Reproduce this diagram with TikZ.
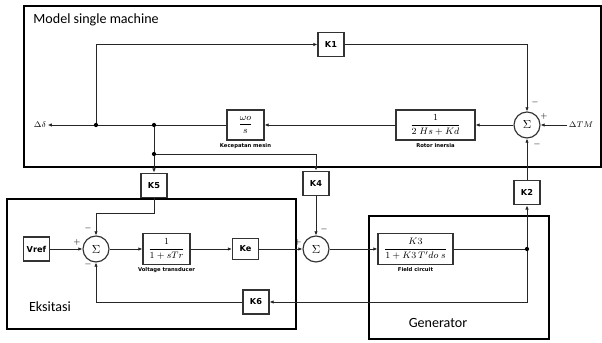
\documentclass[tikz,border=0pt]{standalone}
\usepackage{amsmath}
\usepackage{fontspec}
\setmainfont{Carlito}
\newfontfamily\blokfont{DejaVu Sans}
\usetikzlibrary{arrows.meta,positioning,calc}
\tikzset{every picture/.style={line width=0.75pt}}
\tikzset{
  gainbox/.style={draw=black!80, line width=1pt, minimum width=0.78cm, minimum height=0.74cm,
    inner sep=0pt, font=\blokfont\bfseries\fontsize{7}{8}\selectfont},
  tfbox/.style={draw=black!80, line width=1pt, inner sep=0pt, font=\fontsize{8}{9}\selectfont},
  sumnode/.style={draw=black!80, circle, line width=1pt, minimum size=0.78cm, inner sep=0pt},
  sig/.style={-{Latex[length=3.5pt,width=3pt]}, black!85},
  ket/.style={font=\blokfont\bfseries\fontsize{4.5}{5}\selectfont, inner sep=0pt},
  tanda/.style={font=\fontsize{7}{7}\selectfont, inner sep=0pt},
  judul/.style={font=\fontsize{12}{14}\selectfont, inner sep=0pt},
}

\begin{document}
\begin{tikzpicture}[x=0.03cm, y=-0.03cm]
    \useasboundingbox (0,0) rectangle (602,343);
    % 区域框
    \draw[line width=1pt] (24,6) rectangle (601,167);
    \draw[line width=1pt] (7,199) rectangle (296,329);
    \draw[line width=1pt] (369,216) rectangle (549,339);
    \node[judul, anchor=west] (tmodel) at (33,20) {Model single machine};
    \node[judul] (teks) at (50,307) {Eksitasi};
    \node[judul] (tgen) at (438,323) {Generator};
    % 单机模型
    \node[inner sep=1pt, font=\fontsize{7}{7}\selectfont] (dd) at (40,125) {$\Delta\delta$};
    \node[inner sep=1pt, font=\fontsize{7}{7}\selectfont] (tm) at (581,125) {$\Delta TM$};
    \node[gainbox] (K1) at (331,44.5) {K1};
    \node[tfbox, minimum width=1.11cm, minimum height=0.9cm] (omega) at (245.5,125) {$\dfrac{\omega o}{s}$};
    \node[ket, below=2pt of omega] (lomega) {Kecepatan mesin};
    \node[tfbox, minimum width=2.37cm, minimum height=0.9cm] (rotor) at (435.5,125) {$\dfrac{1}{2\;Hs+Kd}$};
    \node[ket, below=2pt of rotor] (lrotor) {Rotor inersia};
    \node[sumnode] (s0) at (527,125) {$\Sigma$};
    \coordinate (j1) at (96,125);
    \coordinate (j2) at (154,125);
    \coordinate (j3) at (154,154);
    % 激磁与发电机
    \node[gainbox] (K5) at (154,185.5) {K5};
    \node[gainbox] (K4) at (316,183.5) {K4};
    \node[gainbox] (K2) at (527,192.5) {K2};
    \node[gainbox, minimum height=0.72cm] (vref) at (36.5,249) {Vref};
    \node[sumnode] (s1) at (96,249) {$\Sigma$};
    \node[tfbox, minimum width=1.41cm, minimum height=0.93cm] (vt) at (166.5,249) {$\dfrac{1}{1+sTr}$};
    \node[ket, below=2pt of vt] (lvt) {Voltage transducer};
    \node[gainbox, minimum height=0.63cm] (Ke) at (245.5,249) {Ke};
    \node[sumnode] (s2) at (316,249) {$\Sigma$};
    \node[tfbox, minimum width=2.25cm, minimum height=0.93cm] (fc) at (415.5,249) {$\dfrac{K3}{1+K3\,T'do\;s}$};
    \node[ket, below=2pt of fc] (lfc) {Field circuit};
    \node[gainbox, minimum height=0.72cm] (K6) at (256,302) {K6};
    \coordinate (j4) at (527,249);
    % 信号线
    \draw[sig] (omega.west) -- (dd.east);
    \draw[sig] (j1) |- (K1.west);
    \draw[sig] (K1.east) -| (s0.north);
    \draw[sig] (tm.west) -- (s0.east);
    \draw[sig] (s0.west) -- (rotor.east);
    \draw[sig] (rotor.west) -- (omega.east);
    \draw[sig] (j2) -- (K5.north);
    \draw[sig] (j3) -| (K4.north);
    \draw[sig] (K5.south) -- ++(0,15) -| (s1.north);
    \draw[sig] (vref.east) -- (s1.west);
    \draw[sig] (s1.east) -- (vt.west);
    \draw[sig] (vt.east) -- (Ke.west);
    \draw[sig] (Ke.east) -- (s2.west);
    \draw[sig] (K4.south) -- (s2.north);
    \draw[sig] (s2.east) -- (fc.west);
    \draw[black!85] (fc.east) -- (j4);
    \draw[sig] (j4) -- (K2.south);
    \draw[sig] (K2.north) -- (s0.south);
    \draw[sig] (j4) |- (K6.east);
    \draw[sig] (K6.west) -| (s1.south);
    \foreach \j in {j1,j2,j3,j4} \fill (\j) circle (1.8pt);
    % 符号
    \node[tanda] (p0a) at (535,102) {$-$};
    \node[tanda] (p0b) at (544,116) {$+$};
    \node[tanda] (p0c) at (537,144) {$-$};
    \node[tanda] (p1a) at (77,242) {$+$};
    \node[tanda] (p1b) at (88,228) {$-$};
    \node[tanda] (p1c) at (88,264) {$-$};
    \node[tanda] (p2a) at (298,242) {$+$};
    \node[tanda] (p2b) at (324,229) {$-$};
\end{tikzpicture}
\end{document}
